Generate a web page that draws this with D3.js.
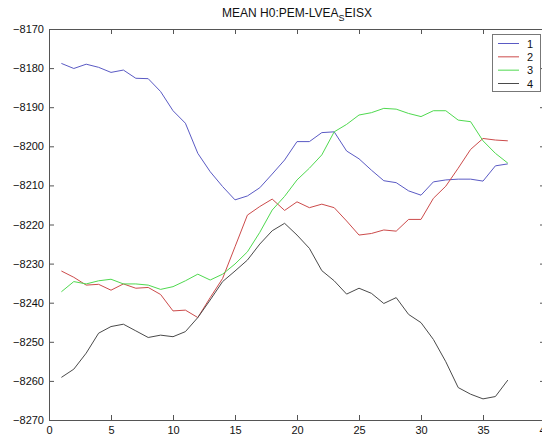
<!DOCTYPE html>
<html>
<head>
<meta charset="utf-8">
<script src="https://cdn.jsdelivr.net/npm/d3@7"></script>
<style>
  html, body { margin: 0; padding: 0; background: #fff; }
  svg { display: block; font-family: "Liberation Sans", Arial, Helvetica, sans-serif; }
</style>
</head>
<body>
<svg id="chart" width="542" height="440"></svg>
<script>
// Sample index along the x axis
const samples = [1,2,3,4,5,6,7,8,9,10,11,12,13,14,15,16,17,18,19,20,21,22,23,24,25,26,27,28,29,30,31,32,33,34,35,36,37];

// Mean values for each channel
const series1 = [-8178.8,-8180.1,-8179.0,-8179.8,-8181.1,-8180.5,-8182.6,-8182.7,-8186.0,-8190.9,-8194.1,-8201.8,-8206.5,-8210.3,-8213.7,-8212.7,-8210.6,-8207.1,-8203.5,-8198.8,-8198.8,-8196.5,-8196.3,-8201.2,-8203.2,-8206.1,-8208.8,-8209.3,-8211.4,-8212.5,-8209.1,-8208.6,-8208.4,-8208.4,-8208.9,-8205.0,-8204.5];
const series2 = [-8231.9,-8233.5,-8235.5,-8235.3,-8236.8,-8235.2,-8236.3,-8236.1,-8237.9,-8242.1,-8241.9,-8243.8,-8238.7,-8233.8,-8225.7,-8217.6,-8215.4,-8213.5,-8216.4,-8214.2,-8215.7,-8214.8,-8215.7,-8219.1,-8222.7,-8222.3,-8221.4,-8221.7,-8218.7,-8218.7,-8213.3,-8210.2,-8205.6,-8200.8,-8198.0,-8198.4,-8198.6];
const series3 = [-8237.2,-8234.6,-8235.2,-8234.4,-8234.0,-8235.2,-8235.2,-8235.5,-8236.6,-8235.9,-8234.4,-8232.7,-8234.2,-8232.7,-8230.1,-8227.0,-8222.0,-8216.3,-8212.8,-8208.6,-8205.6,-8202.2,-8196.3,-8194.4,-8192.0,-8191.4,-8190.3,-8190.5,-8191.6,-8192.4,-8190.9,-8190.9,-8193.3,-8193.7,-8198.6,-8201.8,-8204.3];
const series4 = [-8259.1,-8257.0,-8252.9,-8247.8,-8246.1,-8245.5,-8247.2,-8248.9,-8248.3,-8248.7,-8247.4,-8243.8,-8239.3,-8234.6,-8231.9,-8229.1,-8225.0,-8221.6,-8219.7,-8222.7,-8226.1,-8231.8,-8234.4,-8237.8,-8236.3,-8237.6,-8240.2,-8238.7,-8243.0,-8245.1,-8249.4,-8255.1,-8261.7,-8263.4,-8264.6,-8264.0,-8259.8];

const seriesNames = ["1", "2", "3", "4"];
const seriesColors = ["#5a5ac4", "#cc4b4b", "#4fd94f", "#4a4a4a"];

const xTicks = [0, 5, 10, 15, 20, 25, 30, 35, 40];
const yTicks = [-8270, -8260, -8250, -8240, -8230, -8220, -8210, -8200, -8190, -8180, -8170];

const allSeries = [series1, series2, series3, series4];

const svg = d3.select("#chart");
const plotLeft = 49, plotRight = 545, plotTop = 29, plotBottom = 420;

const x = d3.scaleLinear().domain([0, 40]).range([plotLeft, plotRight]);
const y = d3.scaleLinear().domain([-8270, -8170]).range([plotBottom, plotTop]);

const axisColor = "#555";

function styleAxis(g, showLabels) {
  g.selectAll("path.domain").attr("stroke", axisColor);
  g.selectAll(".tick line").attr("stroke", axisColor);
  g.selectAll(".tick text")
    .attr("fill", "#111")
    .style("font-size", "11px")
    .style("font-family", "'Liberation Sans', Arial, sans-serif");
  if (!showLabels) g.selectAll(".tick text").remove();
}

// Box axes with inward ticks
svg.append("g")
  .attr("transform", `translate(0,${plotBottom})`)
  .call(d3.axisBottom(x).tickValues(xTicks).tickSizeInner(-5).tickSizeOuter(0).tickPadding(6))
  .call(g => styleAxis(g, true));

svg.append("g")
  .attr("transform", `translate(0,${plotTop})`)
  .call(d3.axisTop(x).tickValues(xTicks).tickSizeInner(-5).tickSizeOuter(0))
  .call(g => styleAxis(g, false));

svg.append("g")
  .attr("transform", `translate(${plotLeft},0)`)
  .call(d3.axisLeft(y).tickValues(yTicks).tickSizeInner(-5).tickSizeOuter(0).tickPadding(5).tickFormat(d3.format("d")))
  .call(g => styleAxis(g, true));

svg.append("g")
  .attr("transform", `translate(${plotRight},0)`)
  .call(d3.axisRight(y).tickValues(yTicks).tickSizeInner(-5).tickSizeOuter(0))
  .call(g => styleAxis(g, false));

// Data lines
const line = d3.line()
  .x((d, i) => x(samples[i]))
  .y(d => y(d));

svg.append("g")
  .selectAll("path")
  .data(allSeries)
  .join("path")
  .attr("d", line)
  .attr("fill", "none")
  .attr("stroke", (d, i) => seriesColors[i])
  .attr("stroke-width", 1);

// Title with subscript
const title = svg.append("text")
  .attr("x", (plotLeft + plotRight) / 2)
  .attr("y", 17)
  .attr("text-anchor", "middle")
  .attr("fill", "#111")
  .style("font-size", "12px");
title.append("tspan").text("MEAN H0:PEM-LVEA");
title.append("tspan").attr("dy", 4).style("font-size", "9px").text("S");
title.append("tspan").attr("dy", -4).text("EISX");

// Legend
const legend = svg.append("g");
legend.append("rect")
  .attr("x", 492.5).attr("y", 34.5)
  .attr("width", 48).attr("height", 57)
  .attr("fill", "#fff")
  .attr("stroke", "#777");

const rowY = d3.scalePoint().domain(seriesNames).range([43.5, 83.5]);
seriesNames.forEach((name, i) => {
  legend.append("line")
    .attr("x1", 498).attr("x2", 519)
    .attr("y1", rowY(name)).attr("y2", rowY(name))
    .attr("stroke", seriesColors[i]);
  legend.append("text")
    .attr("x", 527).attr("y", rowY(name) + 4)
    .attr("fill", "#111")
    .style("font-size", "11px")
    .text(name);
});
</script>
</body>
</html>
